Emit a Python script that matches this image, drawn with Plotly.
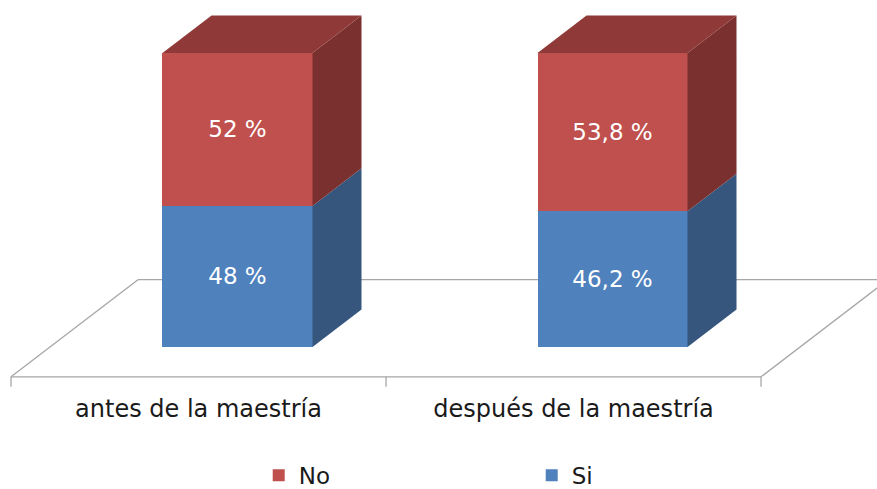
import plotly.graph_objects as go

# ---- data ----
categories = ["antes de la maestría", "después de la maestría"]
si_values = [48, 46.2]
no_values = [52, 53.8]
si_labels = ["48 %", "46,2 %"]
no_labels = ["52 %", "53,8 %"]

# ---- styling / geometry constants ----
FRONT_RED = "#C0504D"
TOP_RED = "#8F3A38"
SIDE_RED = "#7A302E"
FRONT_BLUE = "#4F81BD"
SIDE_BLUE = "#36567E"
FLOOR = "#A6A6A6"

BAR_W = 0.4            # bar width in category units
DX = 0.1307            # depth offset in x units (one bar depth)
DY = 12.76             # depth offset in y units (one bar depth)
FLOOR_Z0 = -0.795      # floor front (in bar-depth units)
FLOOR_Z1 = 1.795       # floor back

xs = list(range(len(categories)))

fig = go.Figure()

# front faces (stacked bars)
fig.add_trace(go.Bar(
    x=xs, y=si_values, name="Si", width=BAR_W,
    marker=dict(color=FRONT_BLUE, line=dict(width=0)),
    text=si_labels, textposition="inside", insidetextanchor="middle",
    textangle=0, textfont=dict(color="white", size=23, family="DejaVu Sans"),
    hoverinfo="skip"))
fig.add_trace(go.Bar(
    x=xs, y=no_values, name="No", width=BAR_W,
    marker=dict(color=FRONT_RED, line=dict(width=0)),
    text=no_labels, textposition="inside", insidetextanchor="middle",
    textangle=0, textfont=dict(color="white", size=23, family="DejaVu Sans"),
    hoverinfo="skip"))


def poly(px, py, color):
    fig.add_trace(go.Scatter(
        x=px + [px[0]], y=py + [py[0]], mode="lines", fill="toself",
        fillcolor=color, line=dict(width=0, color=color),
        showlegend=False, hoverinfo="skip"))


# side and top faces, computed from the data through the axes
for i, (s, n) in enumerate(zip(si_values, no_values)):
    xr = i + BAR_W / 2
    xl = i - BAR_W / 2
    poly([xr, xr + DX, xr + DX, xr], [0, DY, s + DY, s], SIDE_BLUE)
    poly([xr, xr + DX, xr + DX, xr], [s, s + DY, s + n + DY, s + n], SIDE_RED)
    top = s + n
    poly([xl, xl + DX, xr + DX, xr], [top, top + DY, top + DY, top], TOP_RED)

# floor (drawn below traces)
n_cat = len(categories)
fx0 = -0.5 + FLOOR_Z0 * DX
fx1 = n_cat - 0.5 + FLOOR_Z0 * DX
bx0 = -0.5 + FLOOR_Z1 * DX
bx1 = n_cat - 0.5 + FLOOR_Z1 * DX
fy = FLOOR_Z0 * DY
by = FLOOR_Z1 * DY
shapes = []
line = dict(color=FLOOR, width=1.3)
for (x0, y0, x1, y1) in [(fx0, fy, fx1, fy), (bx0, by, bx1, by),
                         (fx0, fy, bx0, by), (fx1, fy, bx1, by)]:
    shapes.append(dict(type="line", xref="x", yref="y", x0=x0, y0=y0,
                       x1=x1, y1=y1, line=line, layer="below"))
for k in range(n_cat + 1):
    tx = k - 0.5 + FLOOR_Z0 * DX
    shapes.append(dict(type="line", xref="x", yref="y", x0=tx, y0=fy,
                       x1=tx, y1=fy - 3.4, line=line, layer="below"))

tickvals = [i + FLOOR_Z0 * DX for i in xs]

fig.update_layout(
    width=877, height=489,
    margin=dict(l=0, r=0, t=0, b=97, autoexpand=False),
    plot_bgcolor="white", paper_bgcolor="white",
    barmode="stack", bargap=0,
    shapes=shapes,
    font=dict(family="DejaVu Sans", size=23, color="#1a1a1a"),
    xaxis=dict(range=[-0.6333, 1.7053], tickvals=tickvals, ticktext=categories,
               showgrid=False, zeroline=False, showline=False, ticks="",
               automargin=False, ticklabelstandoff=0,
               tickfont=dict(size=24, color="#1a1a1a"), fixedrange=True),
    yaxis=dict(range=[-15.306, 118.027], visible=False, showgrid=False,
               automargin=False, zeroline=False, fixedrange=True),
    legend=dict(orientation="h", traceorder="reversed",
                x=0.295, xanchor="left", y=-0.2674, yanchor="bottom",
                entrywidth=228, entrywidthmode="pixels",
                font=dict(size=23, color="#1a1a1a"),
                bgcolor="rgba(0,0,0,0)"),
    showlegend=True,
)

fig.write_html("out.html",
               config={"displayModeBar": False, "staticPlot": True},
               post_script="document.body.style.margin='0px';"
                           "document.body.style.overflow='hidden';")
